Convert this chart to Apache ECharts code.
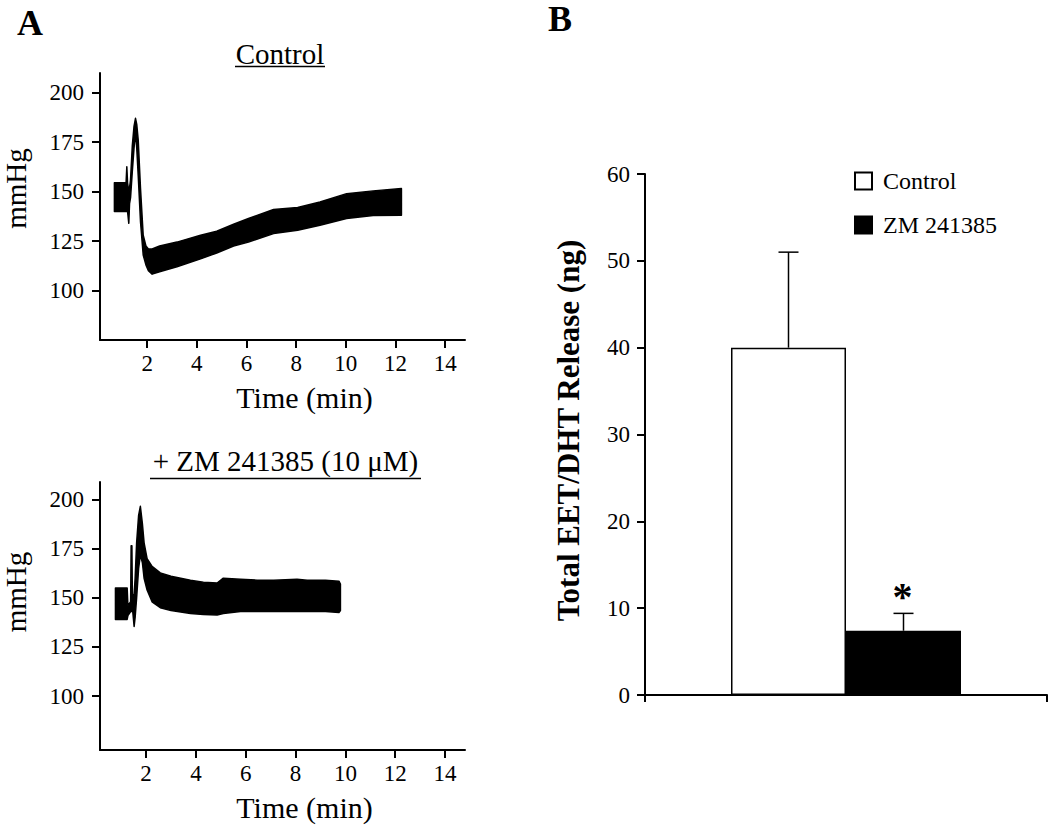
<!DOCTYPE html>
<html>
<head>
<meta charset="utf-8">
<script src="https://cdn.jsdelivr.net/npm/echarts@6/dist/echarts.min.js"></script>
<style>html,body{margin:0;padding:0;background:#fff}#c{width:1050px;height:826px}</style>
</head>
<body>
<div id="c"></div>
<script>
// ---------- Panel A, top: Control pressure trace (envelope of the recording) ----------
const ctrlTime = [0.68, 1.15, 1.18, 1.21, 1.26, 1.29, 1.33, 1.40, 1.47, 1.53, 1.58, 1.64, 1.73, 1.84, 1.95, 2.05, 2.2, 2.5, 3.2, 4.15, 4.8, 5.48, 6.08, 7.09, 8.06, 8.96, 10.03, 11.1, 12.24];
const ctrlLow  = [140, 140, 140, 140, 134, 144, 147, 160, 172, 180, 172, 158, 135, 118, 113, 110, 108.3, 109.5, 112, 116, 119, 122.5, 124.5, 128.8, 130.5, 133, 136.4, 138, 138.1];
const ctrlHigh = [154.5, 154.5, 162.6, 154.5, 150, 152, 156, 173, 183, 187.1, 184, 176, 152, 128, 122.5, 121, 121, 122.5, 124.5, 128, 130, 133.5, 136.4, 141, 142, 144.8, 149, 150.4, 151.6];

// ---------- Panel A, bottom: + ZM 241385 (10 µM) pressure trace ----------
const zmTime = [0.77, 1.24, 1.27, 1.38, 1.40, 1.43, 1.45, 1.52, 1.56, 1.62, 1.70, 1.77, 1.85, 1.92, 2.04, 2.24, 2.57, 3.0, 3.78, 4.3, 4.85, 5.1, 5.79, 6.46, 7.12, 8.06, 8.47, 9.2, 9.74, 9.8];
const zmLow  = [139, 139, 141, 143, 143, 143, 145, 135.4, 140, 150, 165, 172, 168, 160, 154, 148, 145, 143.5, 142, 141.5, 141.3, 142, 143, 143, 143, 143, 143, 143, 142.5, 143.5];
const zmHigh = [155, 155, 146, 148, 176.5, 176.5, 150, 152, 160, 178, 192, 196.6, 188, 178, 170, 166, 162.7, 161, 159, 158, 157.5, 160, 159.5, 159, 159, 159.5, 159, 159, 158.5, 157];

// ---------- Axis tick labels ----------
const timeTicks = [2, 4, 6, 8, 10, 12, 14];
const pressureTicks = [100, 125, 150, 175, 200];

// ---------- Panel B: Total EET/DHT release ----------
const barGroups = ['Control', 'ZM 241385'];
const barMeans = [40, 7.4];
const barErrors = [11, 2];
const barSignif = ['', '*'];

// ---------- styling ----------
const SERIF = '"Liberation Serif", "Times New Roman", serif';
const BLACK = '#000';
const BAR_W = 115;

// filled envelope band (min/max of the pressure recording) drawn through the axes
function bandSeries(t, lo, hi, idx) {
  return {
    type: 'custom', xAxisIndex: idx, yAxisIndex: idx, silent: true, z: 2,
    data: t.map((x, i) => [x, lo[i], hi[i]]),
    encode: { x: 0, y: [1, 2] },
    renderItem: function (params, api) {
      if (params.dataIndexInside !== 0) return null;
      const n = params.dataInsideLength;
      const upper = [], lower = [];
      for (let k = 0; k < n; k++) {
        upper.push(api.coord([api.value(0, k), api.value(2, k)]));
        lower.push(api.coord([api.value(0, k), api.value(1, k)]));
      }
      const pts = upper.concat(lower.reverse());
      return {
        type: 'polygon', shape: { points: pts },
        style: { fill: BLACK, stroke: BLACK, lineWidth: 1.5, lineJoin: 'round' }
      };
    }
  };
}

function timeAxis(gi, min) {
  return {
    type: 'value', gridIndex: gi, min: min, max: 14.8,
    axisLine: { show: true, onZero: false, lineStyle: { color: BLACK, width: 2 } },
    axisTick: { show: true, customValues: timeTicks, length: 8, lineStyle: { color: BLACK, width: 2 } },
    axisLabel: { customValues: timeTicks, margin: 12, fontFamily: SERIF, fontSize: 23, color: BLACK },
    splitLine: { show: false },
    name: 'Time (min)', nameLocation: 'middle', nameGap: 42,
    nameTextStyle: { fontFamily: SERIF, fontSize: 30, color: BLACK, padding: [0, 0, 0, 44] }
  };
}

function pressureAxis(gi, min, max, shift) {
  return {
    type: 'value', gridIndex: gi, min: min, max: max,
    axisLine: { show: true, onZero: false, lineStyle: { color: BLACK, width: 2 } },
    axisTick: { show: true, customValues: pressureTicks, length: 8, lineStyle: { color: BLACK, width: 2 } },
    axisLabel: { customValues: pressureTicks, margin: 16, fontFamily: SERIF, fontSize: 23, color: BLACK },
    splitLine: { show: false },
    name: 'mmHg', nameLocation: 'middle', nameRotate: 90, nameGap: 70,
    nameTextStyle: { fontFamily: SERIF, fontSize: 29, color: BLACK, padding: [0, 0, 0, shift] }
  };
}

const chart = echarts.init(document.getElementById('c'), null, { renderer: 'svg' });

const option = {
  backgroundColor: '#fff',
  animation: false,
  grid: [
    { left: 99, top: 73, width: 366, height: 267 },
    { left: 100, top: 482, width: 365, height: 268 },
    { left: 645, top: 174, width: 402, height: 521 }
  ],
  xAxis: [
    timeAxis(0, 0.1),
    timeAxis(1, 0.15),
    {
      type: 'category', gridIndex: 2, data: [''], boundaryGap: true,
      axisLine: { show: true, lineStyle: { color: BLACK, width: 2 } },
      axisTick: { show: true, length: 7, lineStyle: { color: BLACK, width: 2 } },
      axisLabel: { show: false },
      splitLine: { show: false }
    }
  ],
  yAxis: [
    pressureAxis(0, 75, 210, 36),
    pressureAxis(1, 72.5, 209, 48),
    {
      type: 'value', gridIndex: 2, min: 0, max: 60, interval: 10,
      axisLine: { show: true, lineStyle: { color: BLACK, width: 2 } },
      axisTick: { show: true, length: 8, lineStyle: { color: BLACK, width: 2 } },
      axisLabel: { margin: 15, fontFamily: SERIF, fontSize: 23, color: BLACK },
      splitLine: { show: false },
      name: 'Total EET/DHT Release (ng)', nameLocation: 'middle', nameRotate: 90, nameGap: 61,
      nameTextStyle: { fontFamily: SERIF, fontSize: 31, fontWeight: 'bold', color: BLACK, padding: [0, 0, 0, 8] }
    }
  ],
  legend: {
    data: barGroups, orient: 'vertical', left: 849, top: 164,
    itemWidth: 17, itemHeight: 17, itemGap: 20, icon: 'rect', selectedMode: false,
    textStyle: { fontFamily: SERIF, fontSize: 24, color: BLACK, padding: [0, 0, 0, 6] }
  },
  graphic: [
    { type: 'text', left: 17, top: 5, style: { text: 'A', font: 'bold 36px ' + SERIF, fill: BLACK } },
    { type: 'text', left: 548, top: 1, style: { text: 'B', font: 'bold 36px ' + SERIF, fill: BLACK } },
    { type: 'text', x: 280, y: 53.5, style: { text: 'Control', font: '29px ' + SERIF, fill: BLACK, align: 'center', verticalAlign: 'middle' } },
    { type: 'line', shape: { x1: 235, y1: 66.5, x2: 325, y2: 66.5 }, style: { stroke: BLACK, lineWidth: 1.5 } },
    { type: 'text', x: 285.5, y: 461, style: { text: '+ ZM 241385 (10 \u03bcM)', font: '29px ' + SERIF, fill: BLACK, align: 'center', verticalAlign: 'middle' } },
    { type: 'line', shape: { x1: 150, y1: 478.5, x2: 421, y2: 478.5 }, style: { stroke: BLACK, lineWidth: 1.5 } }
  ],
  series: [
    bandSeries(ctrlTime, ctrlLow, ctrlHigh, 0),
    bandSeries(zmTime, zmLow, zmHigh, 1),
    {
      name: barGroups[0], type: 'bar', xAxisIndex: 2, yAxisIndex: 2,
      data: [barMeans[0]], barWidth: BAR_W, barGap: '0%', silent: true,
      itemStyle: { color: '#fff', borderColor: BLACK, borderWidth: 1.5 }
    },
    {
      name: barGroups[1], type: 'bar', xAxisIndex: 2, yAxisIndex: 2,
      data: [barMeans[1]], barWidth: BAR_W, barGap: '0%', silent: true,
      itemStyle: { color: BLACK, borderColor: BLACK, borderWidth: 1.5 }
    },
    {
      type: 'custom', xAxisIndex: 2, yAxisIndex: 2, z: 5, silent: true,
      data: barMeans.map((m, i) => [0, m, m + barErrors[i], i]),
      renderItem: function (params, api) {
        const i = api.value(3);
        const base = api.coord([api.value(0), api.value(1)]);
        const top = api.coord([api.value(0), api.value(2)]);
        const x = base[0] + (i === 0 ? -1 : 1) * BAR_W / 2;
        const children = [
          { type: 'line', shape: { x1: x, y1: base[1], x2: x, y2: top[1] }, style: { stroke: BLACK, lineWidth: 1.5 } },
          { type: 'line', shape: { x1: x - 10, y1: top[1], x2: x + 10, y2: top[1] }, style: { stroke: BLACK, lineWidth: 1.5 } }
        ];
        if (barSignif[i]) {
          children.push({ type: 'text', x: x - 1, y: top[1] - 17,
            style: { text: barSignif[i], font: 'bold 40px ' + SERIF, fill: BLACK, align: 'center', verticalAlign: 'middle' } });
        }
        return { type: 'group', children: children };
      }
    }
  ]
};
chart.setOption(option);
</script>
</body>
</html>
